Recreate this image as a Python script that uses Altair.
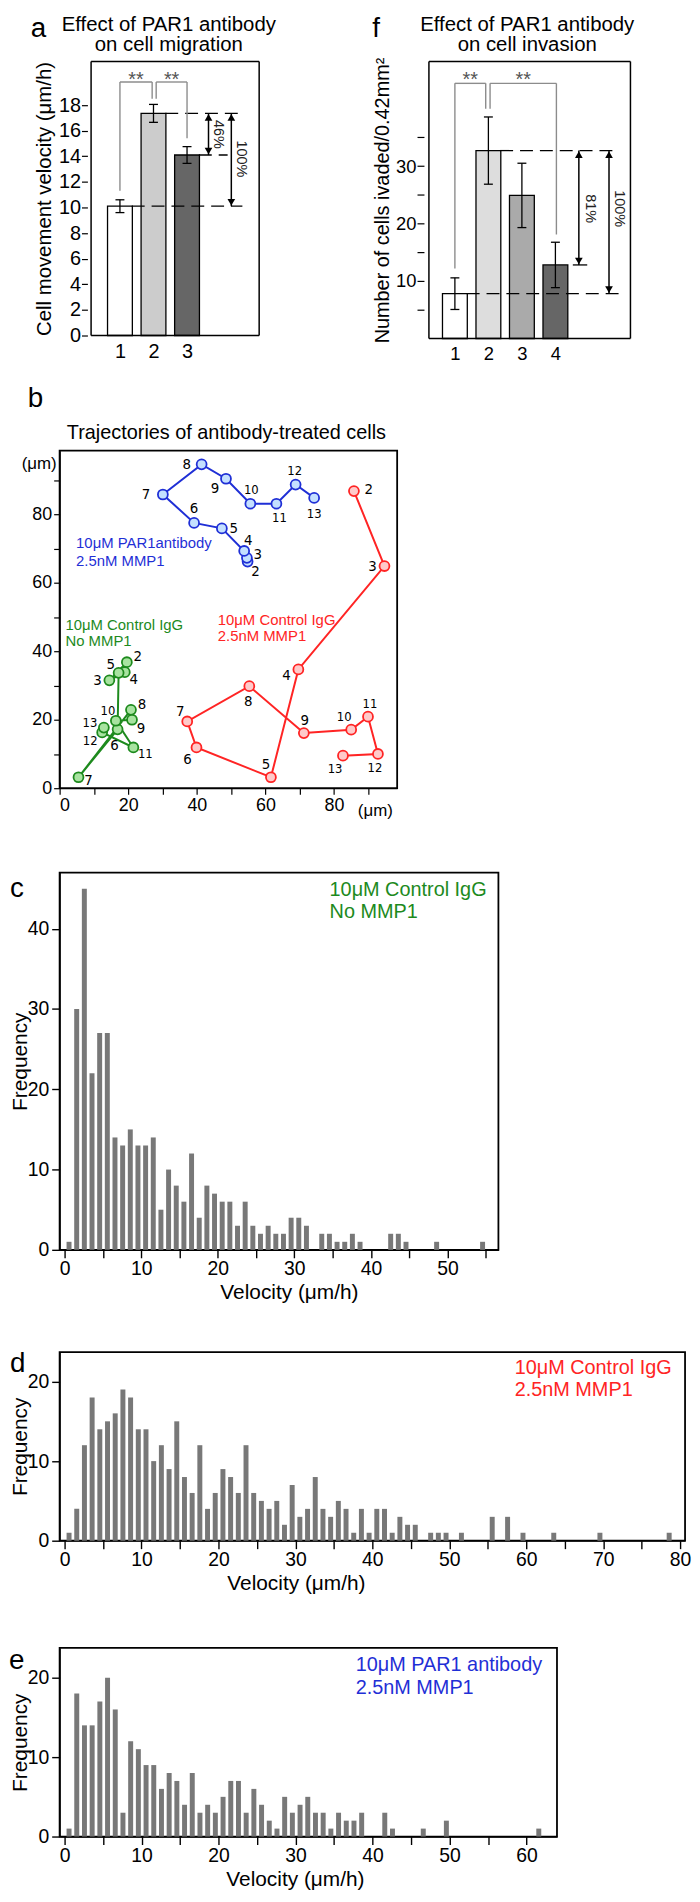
import altair as alt
import pandas as pd

FONT = "Liberation Sans, Arial, sans-serif"
NARROW = "Liberation Sans Narrow, DejaVu Sans Condensed, Liberation Sans, sans-serif"
BLACK = "#000000"

# ============================ DATA ============================
# ---- panel a : cell migration
a_groups = [1, 2, 3]
a_means = [10.1, 17.35, 14.1]
a_errs = [0.5, 0.7, 0.65]
a_fills = ["#ffffff", "#cccccc", "#666666"]
a_title = ["Effect of PAR1 antibody", "on cell migration"]
a_ytitle = "Cell movement velocity (μm/h)"
a_yticks = [0, 2, 4, 6, 8, 10, 12, 14, 16, 18]
a_sig_left = [1.0, 2.08]
a_sig_right = [1.96, 3.0]
a_sig_top = [19.8, 19.8]
a_sig_left_end = [11.3, 18.5]
a_sig_right_end = [18.5, 15.4]
a_ref_bar = [1, 2, 0]
a_ref_end = [4.65, 4.21, 4.65]
a_arrow_x = [3.64, 4.32]
a_arrow_from = [1, 1]
a_arrow_to = [2, 0]
a_arrow_text = ["46%", "100%"]
a_arrow_text_x = [3.92, 4.6]
a_arrow_text_y = [15.7, 13.8]

# ---- panel f : cell invasion
f_groups = [1, 2, 3, 4]
f_means = [7.8, 32.7, 24.9, 12.8]
f_errs = [2.75, 5.85, 5.6, 3.95]
f_fills = ["#ffffff", "#dddddd", "#aaaaaa", "#666666"]
f_title = ["Effect of PAR1 antibody", "on cell invasion"]
f_ytitle = "Number of cells ivaded/0.42mm²"
f_yticks = [5, 10, 15, 20, 25, 30, 35]
f_sig_left = [1.0, 2.05]
f_sig_right = [1.92, 4.03]
f_sig_top = [44.4, 44.4]
f_sig_left_end = [12.2, 40.0]
f_sig_right_end = [40.0, 18.1]
f_ref_bar = [1, 0]
f_ref_end = [5.89, 5.89]
f_solid_bar = [3]
f_solid_from = [4.52]
f_solid_to = [4.95]
f_arrow_x = [4.7, 5.6]
f_arrow_from = [1, 1]
f_arrow_to = [3, 0]
f_arrow_text = ["81%", "100%"]
f_arrow_text_x = [5.03, 5.9]
f_arrow_text_y = [22.6, 22.6]

# ---- panel b : trajectories (time points 2..13)
steps = [2, 3, 4, 5, 6, 7, 8, 9, 10, 11, 12, 13]
blue_x = [54.8, 54.6, 53.8, 47.3, 39.2, 30.1, 41.4, 48.5, 55.6, 63.2, 68.8, 74.2]
blue_y = [66.2, 67.3, 69.3, 75.9, 77.5, 85.8, 94.6, 90.4, 83.1, 83.1, 88.7, 84.8]
red_x = [85.8, 94.7, 69.6, 61.6, 39.9, 37.2, 55.3, 71.2, 85.0, 89.9, 92.8, 82.6]
red_y = [86.8, 64.9, 34.7, 3.2, 11.9, 19.5, 29.8, 16.1, 17.1, 20.9, 10.0, 9.5]
green_x = [19.6, 14.5, 19.0, 17.2, 16.9, 5.5, 20.8, 21.1, 16.4, 21.5, 12.4, 12.9]
green_y = [36.8, 31.5, 33.9, 33.7, 17.2, 3.2, 22.9, 20.0, 19.7, 11.9, 16.3, 17.7]
# label offsets from each point (pixels, right / down)
blue_ldx = [8, 11, 4, 12, 0, -17, -15, -11, 1, 3, -1, 0]
blue_ldy = [10, -4, -11, 0, -15, 0, 0, 9, -14, 14, -14, 16]
red_ldx = [15, -12, -12, -5, -9, -7, -1, 1, -7, 2, -3, -8]
red_ldy = [-2, 0, 6, -13, 12, -11, 15, -13, -13, -13, 14, 13]
green_ldx = [11, -12, 9, -8, -3, 10, 11, 9, -8, 12, -12, -14]
green_ldy = [-6, 0, 7, -9, 16, 3, -6, 8, -10, 7, 9, -5]
b_title = "Trajectories of antibody-treated cells"
blue_note = ["10μM PAR1antibody", "2.5nM MMP1"]
red_note = ["10μM Control IgG", "2.5nM MMP1"]
green_note = ["10μM Control IgG", "No MMP1"]

# ---- velocity histograms (1 μm/h bins, starting at 0)
c_counts = [1, 30, 45, 22, 27, 27, 14, 13, 15, 13,
            13, 14, 5, 10, 8, 6, 12, 4, 8, 7,
            6, 6, 3, 6, 3, 2, 3, 2, 2, 4,
            4, 3, 0, 2, 2, 1, 1, 2, 1, 0,
            0, 0, 2, 2, 1, 0, 0, 0, 1, 0,
            0, 0, 0, 0, 1]
d_counts = [1, 4, 12, 18, 14, 15, 16, 19, 18, 14,
            14, 10, 12, 9, 15, 8, 6, 12, 4, 6,
            9, 8, 6, 12, 6, 5, 4, 5, 2, 7,
            3, 4, 8, 4, 3, 5, 4, 1, 4, 1,
            4, 4, 1, 3, 2, 2, 0, 1, 1, 1,
            0, 1, 0, 0, 0, 3, 0, 3, 0, 1,
            0, 0, 0, 1, 0, 0, 0, 0, 0, 1,
            0, 0, 0, 0, 0, 0, 0, 0, 1]
e_counts = [1, 18, 14, 14, 17, 20, 16, 3, 12, 11,
            9, 9, 6, 8, 7, 4, 8, 3, 4, 3,
            5, 7, 7, 3, 6, 4, 2, 1, 5, 3,
            4, 5, 3, 3, 1, 3, 2, 2, 3, 0,
            0, 3, 1, 0, 0, 0, 1, 0, 0, 2,
            0, 0, 0, 0, 0, 0, 0, 0, 0, 0,
            0, 1]
c_note = ["10μM Control IgG", "No MMP1"]
d_note = ["10μM Control IgG", "2.5nM MMP1"]
e_note = ["10μM PAR1 antibody", "2.5nM MMP1"]
vel_title = "Velocity (μm/h)"
freq_title = "Frequency"

GREEN, GREEN_FILL = "#1d8a1d", "#a8e3a0"
RED, RED_FILL = "#ff2424", "#ffcaca"
BLUE, BLUE_FILL = "#1f2fd6", "#c4e0ff"


# ============================ HELPERS ============================
def txt(text, x, y, size, align="left", baseline="alphabetic", color=BLACK, font=FONT):
    return alt.Chart(pd.DataFrame({"t": [text]})).mark_text(
        align=align, baseline=baseline, fontSize=size, font=font, color=color
    ).encode(x=alt.value(x), y=alt.value(y), text="t:N")


def bar_panel(p):
    xs = alt.Scale(domain=p["xdom"], nice=False, zero=False)
    ys = alt.Scale(domain=p["ydom"], nice=False, zero=False)
    xax = alt.Axis(values=p["groups"], ticks=False, domain=False, labelFontSize=p["lfs"],
                   labelPadding=6, title=None, grid=False, format="d")
    yax = alt.Axis(values=p["yticks"], offset=p["yoff"], domain=False, tickSize=p["tick"],
                   tickWidth=1.2, labelFontSize=p["lfs"], labelPadding=1, title=p["ytitle"],
                   titleFontSize=p["tfs"], titlePadding=p["tpad"], grid=False, format="d",
                   labelExpr=p["lexpr"])

    def X(f):
        return alt.X(f, type="quantitative", scale=xs, axis=xax)

    def Y(f):
        return alt.Y(f, type="quantitative", scale=ys, axis=yax)

    g, m, e = p["groups"], p["means"], p["errs"]
    half = p["half"]
    df = pd.DataFrame({"g": g, "m": m, "lo": [a - b for a, b in zip(m, e)],
                       "hi": [a + b for a, b in zip(m, e)], "fill": p["fills"]})
    bx1, bx2 = p["box"]
    by1, by2 = p["ydom"]
    frame = pd.DataFrame({"x": [bx1, bx1, bx1, bx2], "x2": [bx2, bx2, bx1, bx2],
                          "y": [by1, by2, by1, by1], "y2": [by1, by2, by2, by2]})
    box = alt.Chart(frame).mark_rule(color=BLACK, strokeWidth=1.5).encode(
        x=X("x"), x2="x2", y=Y("y"), y2="y2")
    bars = alt.Chart(df).mark_bar(size=p["bw"], stroke=BLACK, strokeWidth=1.3).encode(
        x=X("g"), y=Y("m"), fill=alt.Fill("fill:N", scale=None))
    err = alt.Chart(df).mark_rule(color=BLACK, strokeWidth=1.3).encode(x=X("g"), y=Y("lo"), y2="hi")
    caps = alt.Chart(df).transform_fold(["lo", "hi"]).mark_tick(
        orient="horizontal", size=9, thickness=1.3, color=BLACK, opacity=1).encode(
        x=X("g"), y=Y("value"))

    ref = pd.DataFrame({"x": [g[i] + half for i in p["ref_bar"]], "x2": p["ref_end"],
                        "y": [m[i] for i in p["ref_bar"]]})
    refs = alt.Chart(ref).mark_rule(color=BLACK, strokeWidth=1.3, strokeDash=[13, 7]).encode(
        x=X("x"), x2="x2", y=Y("y"))
    layers = [bars, err, caps, refs]
    if p.get("solid_bar"):
        sol = pd.DataFrame({"x": p["solid_from"], "x2": p["solid_to"],
                            "y": [m[i] for i in p["solid_bar"]]})
        layers.append(alt.Chart(sol).mark_rule(color=BLACK, strokeWidth=1.3).encode(
            x=X("x"), x2="x2", y=Y("y")))

    seg = []
    for l, r, t, le, re in zip(p["sig_l"], p["sig_r"], p["sig_top"], p["sig_le"], p["sig_re"]):
        seg += [dict(x=l, x2=l, y=le, y2=t), dict(x=l, x2=r, y=t, y2=t), dict(x=r, x2=r, y=re, y2=t)]
    layers.append(alt.Chart(pd.DataFrame(seg)).mark_rule(color="#8c8c8c", strokeWidth=1.4).encode(
        x=X("x"), x2="x2", y=Y("y"), y2="y2"))
    stars = pd.DataFrame({"x": [(l + r) / 2 for l, r in zip(p["sig_l"], p["sig_r"])],
                          "y": p["sig_top"], "t": ["**"] * len(p["sig_l"])})
    layers.append(alt.Chart(stars).mark_text(fontSize=20, color="#555555", baseline="alphabetic",
                                             dy=p["star_dy"], font=FONT).encode(
        x=X("x"), y=Y("y"), text="t:N"))

    arr = pd.DataFrame({"x": p["arr_x"], "top": [m[i] for i in p["arr_from"]],
                        "bot": [m[i] for i in p["arr_to"]]})
    layers.append(alt.Chart(arr).mark_rule(color=BLACK, strokeWidth=1.5).encode(
        x=X("x"), y=Y("top"), y2="bot"))
    layers.append(alt.Chart(arr).mark_point(shape="triangle-up", filled=True, size=60, color=BLACK,
                                            opacity=1, yOffset=4).encode(x=X("x"), y=Y("top")))
    layers.append(alt.Chart(arr).mark_point(shape="triangle-down", filled=True, size=60, color=BLACK,
                                            opacity=1, yOffset=-4).encode(x=X("x"), y=Y("bot")))
    at = pd.DataFrame({"x": p["arr_tx"], "y": p["arr_ty"], "t": p["arr_txt"]})
    layers.append(alt.Chart(at).mark_text(angle=90, fontSize=14.5, font=FONT, color="#222222",
                                          baseline="middle", align="center").encode(
        x=X("x"), y=Y("y"), text="t:N"))
    layers.append(box)

    tx, ty1, ty2 = p["title_pos"]
    layers.append(txt(p["title"][0], tx, ty1, 20.5, align="center"))
    layers.append(txt(p["title"][1], tx, ty2, 20.5, align="center"))
    layers.append(txt(p["letter"], p["letter_pos"][0], p["letter_pos"][1], 28))
    return alt.layer(*layers).properties(width=p["width"], height=p["height"],
                                         view=alt.ViewBackground(stroke="transparent"))


def hist_panel(counts, xmax, ymax, width, height, yticks, note, color, note_x, note_y,
               letter, letter_pos, title_x):
    df = pd.DataFrame({"bin": list(range(len(counts))), "count": counts})
    xs = alt.Scale(domain=[0, xmax], nice=False, zero=False)
    ys = alt.Scale(domain=[0, ymax], nice=False, zero=False)
    xax = alt.Axis(values=list(range(0, int(xmax) + 1, 5)),
                   labelExpr="datum.value % 10 === 0 ? datum.label : ''",
                   tickSize=8, tickWidth=1.4, labelFontSize=19.5, labelPadding=2, title=vel_title,
                   titleFontSize=21, titlePadding=4, titleX=title_x, grid=False)
    yax = alt.Axis(values=yticks, tickSize=8, tickWidth=1.4, labelFontSize=19.5, labelPadding=3,
                   title=freq_title, titleFontSize=21, titlePadding=-3.5, grid=False)
    bars = alt.Chart(df).transform_filter("datum.count > 0").transform_calculate(
        xc="datum.bin + 0.58").mark_bar(size=5, color="#787878").encode(
        x=alt.X("xc:Q", scale=xs, axis=xax), y=alt.Y("count:Q", scale=ys, axis=yax))
    nd = pd.DataFrame({"x": [note_x] * 2, "y": note_y, "t": note})
    notes = alt.Chart(nd).mark_text(align="left", baseline="alphabetic", fontSize=20,
                                    color=color, font=FONT).encode(
        x=alt.X("x:Q", scale=xs, axis=xax), y=alt.Y("y:Q", scale=ys, axis=yax), text="t:N")
    lt = txt(letter, letter_pos[0], letter_pos[1], 28)
    return alt.layer(bars, notes, lt).properties(width=width, height=height)


# ============================ PANELS a / f ============================
a_chart = bar_panel(dict(
    groups=a_groups, means=a_means, errs=a_errs, fills=a_fills, title=a_title, ytitle=a_ytitle,
    yticks=a_yticks, lexpr="datum.label", sig_l=a_sig_left, sig_r=a_sig_right, sig_top=a_sig_top,
    sig_le=a_sig_left_end, sig_re=a_sig_right_end, ref_bar=a_ref_bar, ref_end=a_ref_end,
    arr_x=a_arrow_x, arr_from=a_arrow_from, arr_to=a_arrow_to, arr_txt=a_arrow_text,
    arr_tx=a_arrow_text_x, arr_ty=a_arrow_text_y,
    xdom=[-0.65, 5.15], box=[0.14, 5.15], ydom=[0, 21.4], width=206, height=276, yoff=-28,
    tick=6, tpad=4, lfs=20, tfs=20.5, bw=25, half=0.352, star_dy=4,
    letter="a", letter_pos=(-29, -24.3), title_pos=(110, -30.3, -10.3)))

f_chart = bar_panel(dict(
    groups=f_groups, means=f_means, errs=f_errs, fills=f_fills, title=f_title, ytitle=f_ytitle,
    yticks=f_yticks, lexpr="datum.value % 10 === 0 ? datum.label : ''",
    sig_l=f_sig_left, sig_r=f_sig_right, sig_top=f_sig_top,
    sig_le=f_sig_left_end, sig_re=f_sig_right_end, ref_bar=f_ref_bar, ref_end=f_ref_end,
    solid_bar=f_solid_bar, solid_from=f_solid_from, solid_to=f_solid_to,
    arr_x=f_arrow_x, arr_from=f_arrow_from, arr_to=f_arrow_to, arr_txt=f_arrow_text,
    arr_tx=f_arrow_text_x, arr_ty=f_arrow_text_y,
    xdom=[0.225, 6.24], box=[0.225, 6.24], ydom=[0, 48.2], width=213, height=279, yoff=0,
    tick=7, tpad=3, lfs=18.5, tfs=20, bw=25, half=0.352, star_dy=3,
    letter="f", letter_pos=(-52, -24.3), title_pos=(104, -30.3, -10.3)))

# ============================ PANEL b ============================
rows = []
for name, xs_, ys_, ldx, ldy, col, fil in [
        ("blue", blue_x, blue_y, blue_ldx, blue_ldy, BLUE, BLUE_FILL),
        ("red", red_x, red_y, red_ldx, red_ldy, RED, RED_FILL),
        ("green", green_x, green_y, green_ldx, green_ldy, GREEN, GREEN_FILL)]:
    for s, x, y, dx, dy in zip(steps, xs_, ys_, ldx, ldy):
        rows.append(dict(series=name, step=s, x=x, y=y, lx=x + dx / 3.45, ly=y - dy / 3.45,
                         lab=str(s), fs=15 if s < 10 else 13, line=col, fill=fil))
traj = pd.DataFrame(rows)

bxs = alt.Scale(domain=[0, 98.4], nice=False, zero=False)
bys = alt.Scale(domain=[0, 98.6], nice=False, zero=False)
bxax = alt.Axis(values=list(range(0, 100, 10)), labelExpr="datum.value % 20 === 0 ? datum.label : ''",
                tickSize=6, tickWidth=1.2, labelFontSize=18, labelPadding=2,
                title=None, grid=False)
byax = alt.Axis(values=list(range(0, 100, 10)), labelExpr="datum.value % 20 === 0 ? datum.label : ''",
                tickSize=6, tickWidth=1.2, labelFontSize=18, labelPadding=2,
                title=None, grid=False)


def BX(f):
    return alt.X(f, type="quantitative", scale=bxs, axis=bxax)


def BY(f):
    return alt.Y(f, type="quantitative", scale=bys, axis=byax)


b_lines = alt.Chart(traj).mark_line(strokeWidth=2).encode(
    x=BX("x"), y=BY("y"), detail="series:N", order="step:Q", color=alt.Color("line:N", scale=None))
b_pts = alt.Chart(traj).mark_point(shape="circle", filled=True, size=100, strokeWidth=1.8,
                                   opacity=1).encode(
    x=BX("x"), y=BY("y"), fill=alt.Fill("fill:N", scale=None), stroke=alt.Stroke("line:N", scale=None))
b_labs = alt.Chart(traj).mark_text(font=NARROW, baseline="middle", align="center", color=BLACK).encode(
    x=BX("lx"), y=BY("ly"), text="lab:N", size=alt.Size("fs:Q", scale=None))
notes_b = pd.DataFrame({
    "x": [4.8, 4.8, 1.7, 1.7, 46.1, 46.1],
    "y": [71.5, 66.4, 47.8, 42.9, 49.2, 44.4],
    "t": blue_note + green_note + red_note,
    "c": [BLUE, BLUE, GREEN, GREEN, RED, RED]})
b_notes = alt.Chart(notes_b).mark_text(align="left", baseline="middle", fontSize=15, font=FONT).encode(
    x=BX("x"), y=BY("y"), text="t:N", color=alt.Color("c:N", scale=None))
b_chart = alt.layer(
    b_lines, b_pts, b_labs, b_notes,
    txt(b_title, 168, -11.6, 20, align="center"),
    txt("b", -32, -44.3, 28),
    txt("(μm)", -3, 13, 17, align="right", baseline="middle"),
    txt("(μm)", 318, 363, 17, align="center", baseline="middle"),
).properties(width=340, height=340)

# ============================ PANELS c / d / e ============================
c_chart = hist_panel(c_counts, 56, 47, 442, 380, [0, 10, 20, 30, 40], c_note, GREEN,
                     34.6, [44.1, 41.3], "c", (-50, 25), 231)
d_chart = hist_panel(d_counts, 80, 23.7, 630, 190, [0, 10, 20], d_note, RED,
                     58.5, [21.0, 18.2], "d", (-50, 20), 238)
e_chart = hist_panel(e_counts, 63.3, 23.75, 501, 190, [0, 10, 20], e_note, BLUE,
                     37.8, [20.8, 18.0], "e", (-51, 21), 237)

# ============================ LAYOUT ============================
row1 = alt.hconcat(a_chart, f_chart, spacing=95)
top = alt.vconcat(row1, b_chart, spacing=19)
mid = alt.vconcat(c_chart, d_chart, spacing=45)
bottom = alt.vconcat(mid, e_chart, spacing=51)
chart = alt.vconcat(top, bottom, spacing=52,
                    padding={"left": 0, "top": -1, "right": 0, "bottom": 0}).configure_view(
    stroke=BLACK, strokeWidth=1.8).configure_axis(
    domainColor=BLACK, domainWidth=1.3, tickColor=BLACK, labelColor=BLACK, titleColor=BLACK,
    labelFont=FONT, titleFont=FONT, titleFontWeight="normal").configure_text(font=FONT)

chart.save("out.html", embed_options={"renderer": "svg", "actions": False})
